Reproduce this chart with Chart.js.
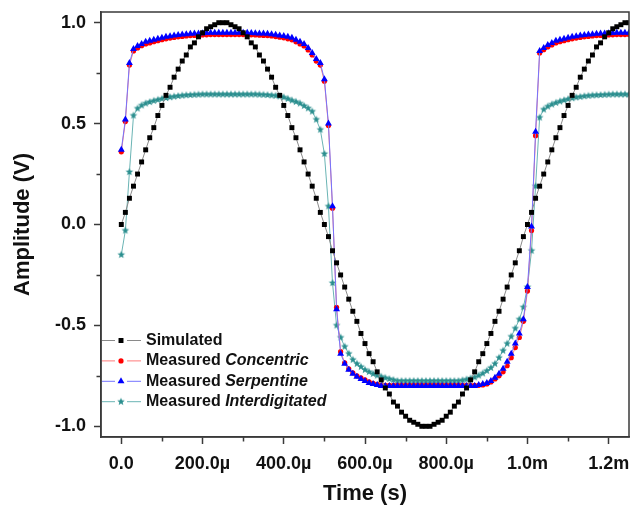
<!DOCTYPE html>
<html><head><meta charset="utf-8">
<script src="https://cdn.jsdelivr.net/npm/chart.js@4"></script>
<style>html,body{margin:0;padding:0;background:#fff;}canvas{display:block;}</style>
</head><body>
<canvas id="c" width="633" height="507"></canvas>
<script>
// time in microseconds
const timeUs = [0,10,20,30,40,50,60,70,80,90,
100,110,120,130,140,150,160,170,180,190,
200,210,220,230,240,250,260,270,280,290,
300,310,320,330,340,350,360,370,380,390,
400,410,420,430,440,450,460,470,480,490,
500,510,520,530,540,550,560,570,580,590,
600,610,620,630,640,650,660,670,680,690,
700,710,720,730,740,750,760,770,780,790,
800,810,820,830,840,850,860,870,880,890,
900,910,920,930,940,950,960,970,980,990,
1000,1010,1020,1030,1040,1050,1060,1070,1080,1090,
1100,1110,1120,1130,1140,1150,1160,1170,1180,1190,
1200,1210,1220,1230,1240,1250];

const simulated = [0.00,0.06,0.13,0.19,0.25,0.31,0.37,0.43,0.48,0.54,
0.59,0.64,0.68,0.73,0.77,0.81,0.84,0.88,0.90,0.93,
0.95,0.97,0.98,0.99,1.00,1.00,1.00,0.99,0.98,0.97,
0.95,0.93,0.90,0.88,0.84,0.81,0.77,0.73,0.68,0.64,
0.59,0.54,0.48,0.43,0.37,0.31,0.25,0.19,0.13,0.06,
0.00,-0.06,-0.13,-0.19,-0.25,-0.31,-0.37,-0.43,-0.48,-0.54,
-0.59,-0.64,-0.68,-0.73,-0.77,-0.81,-0.84,-0.88,-0.90,-0.93,
-0.95,-0.97,-0.98,-0.99,-1.00,-1.00,-1.00,-0.99,-0.98,-0.97,
-0.95,-0.93,-0.90,-0.88,-0.84,-0.81,-0.77,-0.73,-0.68,-0.64,
-0.59,-0.54,-0.48,-0.43,-0.37,-0.31,-0.25,-0.19,-0.13,-0.06,
0.00,0.06,0.13,0.19,0.25,0.31,0.37,0.43,0.48,0.54,
0.59,0.64,0.68,0.73,0.77,0.81,0.84,0.88,0.90,0.93,
0.95,0.97,0.98,0.99,1.00,1.00];

const concentric = [0.36,0.51,0.79,0.86,0.875,0.886,0.895,0.90,0.906,0.911,
0.916,0.92,0.924,0.927,0.93,0.932,0.934,0.936,0.937,0.938,
0.939,0.94,0.941,0.941,0.941,0.941,0.941,0.941,0.941,0.941,
0.941,0.941,0.94,0.939,0.938,0.937,0.936,0.934,0.931,0.928,
0.925,0.92,0.915,0.905,0.895,0.885,0.865,0.84,0.81,0.79,
0.71,0.49,0.08,-0.41,-0.63,-0.685,-0.715,-0.735,-0.75,-0.76,
-0.77,-0.78,-0.787,-0.792,-0.797,-0.797,-0.797,-0.797,-0.797,-0.797,
-0.797,-0.797,-0.797,-0.797,-0.797,-0.797,-0.797,-0.797,-0.797,-0.797,
-0.797,-0.797,-0.797,-0.797,-0.797,-0.797,-0.797,-0.797,-0.797,-0.795,
-0.79,-0.78,-0.765,-0.75,-0.73,-0.70,-0.66,-0.61,-0.56,-0.48,
-0.33,-0.03,0.44,0.85,0.866,0.88,0.89,0.90,0.906,0.911,
0.916,0.92,0.924,0.927,0.93,0.932,0.934,0.936,0.937,0.938,
0.939,0.94,0.941,0.941,0.941,0.941];

const serpentine = [0.37,0.52,0.80,0.87,0.885,0.895,0.905,0.91,0.915,0.92,
0.925,0.93,0.933,0.936,0.939,0.941,0.943,0.945,0.946,0.947,
0.948,0.949,0.95,0.95,0.95,0.95,0.95,0.95,0.95,0.95,
0.95,0.95,0.949,0.948,0.947,0.946,0.945,0.943,0.94,0.937,
0.934,0.93,0.925,0.915,0.905,0.895,0.875,0.85,0.82,0.80,
0.72,0.50,0.09,-0.42,-0.64,-0.69,-0.72,-0.74,-0.755,-0.765,
-0.775,-0.785,-0.79,-0.795,-0.80,-0.80,-0.80,-0.80,-0.80,-0.80,
-0.80,-0.80,-0.80,-0.80,-0.80,-0.80,-0.80,-0.80,-0.80,-0.80,
-0.80,-0.80,-0.80,-0.80,-0.80,-0.80,-0.80,-0.80,-0.795,-0.79,
-0.785,-0.775,-0.76,-0.74,-0.715,-0.68,-0.64,-0.59,-0.54,-0.47,
-0.31,-0.01,0.46,0.86,0.875,0.89,0.90,0.91,0.915,0.92,
0.925,0.93,0.933,0.936,0.939,0.941,0.943,0.945,0.946,0.947,
0.948,0.949,0.95,0.95,0.95,0.95];

const interdigitated = [-0.15,-0.03,0.26,0.54,0.575,0.59,0.60,0.607,0.613,0.618,
0.623,0.627,0.631,0.634,0.637,0.639,0.641,0.642,0.643,0.644,
0.645,0.645,0.645,0.645,0.645,0.645,0.645,0.645,0.645,0.645,
0.645,0.645,0.645,0.645,0.644,0.643,0.642,0.64,0.638,0.635,
0.63,0.623,0.615,0.608,0.60,0.588,0.576,0.56,0.52,0.47,
0.35,0.09,-0.29,-0.50,-0.56,-0.605,-0.64,-0.67,-0.69,-0.705,
-0.72,-0.73,-0.74,-0.748,-0.754,-0.76,-0.765,-0.77,-0.775,-0.775,
-0.775,-0.775,-0.775,-0.775,-0.775,-0.775,-0.775,-0.775,-0.775,-0.775,
-0.775,-0.775,-0.775,-0.775,-0.772,-0.768,-0.763,-0.757,-0.748,-0.738,
-0.725,-0.71,-0.69,-0.66,-0.625,-0.59,-0.555,-0.515,-0.47,-0.41,
-0.31,-0.13,0.19,0.53,0.57,0.585,0.595,0.603,0.61,0.616,
0.621,0.626,0.63,0.633,0.636,0.638,0.64,0.641,0.642,0.643,
0.644,0.645,0.645,0.645,0.645,0.645];

const xTickValues = [0,200,400,600,800,1000,1200];
const xTickLabels = ['0.0','200.0\u00b5','400.0\u00b5','600.0\u00b5','800.0\u00b5','1.0m','1.2m'];
const xMinorTicks = [100,300,500,700,900,1100];
const yTickValues = [-1,-0.5,0,0.5,1];
const yTickLabels = ['-1.0','-0.5','0.0','0.5','1.0'];
const yMinorTicks = [-0.75,-0.25,0.25,0.75];
const legendPlain = ['Simulated','Measured ','Measured ','Measured '];
const legendItalic = ['','Concentric','Serpentine','Interdigitated'];

const FONT = '"Liberation Sans", Arial, Helvetica, sans-serif';
const AXIS = '#3a3a3a';
const TEAL = '#2a8e8e';

function makeStar(color, R, r) {
  const s = Math.ceil(R * 2 + 2);
  const cv = document.createElement('canvas');
  cv.width = s; cv.height = s;
  const g = cv.getContext('2d');
  g.fillStyle = color;
  g.beginPath();
  for (let i = 0; i < 10; i++) {
    const a = -Math.PI / 2 + i * Math.PI / 5;
    const rr = (i % 2) ? r : R;
    g.lineTo(s / 2 + rr * Math.cos(a), s / 2 + rr * Math.sin(a));
  }
  g.closePath();
  g.fill();
  return cv;
}
const starImg = makeStar(TEAL, 4, 1.7);

const toPts = arr => timeUs.map((t, i) => ({x: t, y: arr[i]}));

const styles = [
  {line: '#8a8a8a', fill: '#000000', shape: 'rect', r: 3.5},
  {line: '#ff7a7a', fill: '#ff0000', shape: 'circle', r: 2.6},
  {line: '#7474ff', fill: '#0000ff', shape: 'triangle', r: 4},
  {line: '#6ab4b4', fill: TEAL, shape: starImg, r: 4}
];
const seriesData = [simulated, concentric, serpentine, interdigitated];
const drawOrder = [0, 2, 1, 3];

const datasets = seriesData.map((arr, i) => ({
  label: legendPlain[i] + legendItalic[i],
  data: toPts(arr),
  borderColor: styles[i].line,
  borderWidth: 1,
  pointStyle: styles[i].shape,
  pointRadius: styles[i].r,
  pointBackgroundColor: styles[i].fill,
  pointBorderColor: styles[i].fill,
  pointBorderWidth: 0,
  tension: 0,
  order: drawOrder[i]
}));

function drawMarker(ctx, st, x, y) {
  if (typeof st.shape !== 'string') {
    ctx.drawImage(st.shape, x - st.shape.width / 2, y - st.shape.height / 2);
    return;
  }
  ctx.fillStyle = st.fill;
  ctx.beginPath();
  if (st.shape === 'rect') {
    const s = Math.SQRT1_2 * st.r;
    ctx.rect(x - s, y - s, 2 * s, 2 * s);
  } else if (st.shape === 'circle') {
    ctx.arc(x, y, st.r, 0, Math.PI * 2);
  } else if (st.shape === 'triangle') {
    let a = 0;
    for (let k = 0; k < 3; k++) {
      ctx.lineTo(x + Math.sin(a) * st.r, y - Math.cos(a) * st.r);
      a += 2 * Math.PI / 3;
    }
    ctx.closePath();
  }
  ctx.fill();
}

const decor = {
  id: 'decor',
  afterDraw(chart) {
    const {ctx, chartArea: a, scales: {x, y}} = chart;
    ctx.save();
    ctx.strokeStyle = AXIS;
    ctx.lineWidth = 1.5;
    ctx.strokeRect(a.left, a.top, a.right - a.left, a.bottom - a.top);
    ctx.beginPath();
    xMinorTicks.forEach(v => {
      const px = Math.round(x.getPixelForValue(v)) + 0.5;
      ctx.moveTo(px, a.bottom); ctx.lineTo(px, a.bottom + 4.5);
    });
    yMinorTicks.forEach(v => {
      const py = Math.round(y.getPixelForValue(v)) + 0.5;
      ctx.moveTo(a.left, py); ctx.lineTo(a.left - 4.5, py);
    });
    ctx.stroke();

    // legend
    const x0 = a.left;
    const rowY0 = 340.5;
    const rowStep = 20.4;
    ctx.textBaseline = 'middle';
    for (let i = 0; i < 4; i++) {
      const ry = rowY0 + i * rowStep;
      const st = styles[i];
      ctx.strokeStyle = st.line;
      ctx.lineWidth = 1;
      ctx.beginPath();
      ctx.moveTo(x0 + 1, ry); ctx.lineTo(x0 + 14, ry);
      ctx.moveTo(x0 + 26, ry); ctx.lineTo(x0 + 40, ry);
      ctx.stroke();
      drawMarker(ctx, st, x0 + 20, ry);
      ctx.fillStyle = '#111';
      ctx.font = 'bold 16px ' + FONT;
      const tx = x0 + 45;
      ctx.fillText(legendPlain[i], tx, ry);
      const w = ctx.measureText(legendPlain[i]).width;
      if (legendItalic[i]) {
        ctx.font = 'italic bold 16px ' + FONT;
        ctx.fillText(legendItalic[i], tx + w, ry);
      }
    }
    ctx.restore();
  }
};

const tickFont = {family: FONT, size: 18, weight: 'bold'};
const titleFont = {family: FONT, size: 22, weight: 'bold'};

new Chart(document.getElementById('c'), {
  type: 'line',
  data: {datasets},
  options: {
    responsive: false,
    animation: false,
    devicePixelRatio: 1,
    layout: {padding: {left: 0, right: 3, top: 12, bottom: 0}},
    plugins: {legend: {display: false}, tooltip: {enabled: false}},
    scales: {
      x: {
        type: 'linear', min: -50, max: 1250,
        afterBuildTicks: s => { s.ticks = xTickValues.map(v => ({value: v})); },
        afterFit: s => { s.height = 70; s.paddingLeft = 0; s.paddingRight = 0; s.paddingTop = 0; s.paddingBottom = 0; },
        ticks: {
          callback: (v, i) => xTickLabels[i],
          font: tickFont, color: '#111', padding: 9,
          maxRotation: 0, autoSkip: false
        },
        grid: {display: true, drawOnChartArea: false, drawTicks: true, tickLength: 7, tickWidth: 1.5, tickColor: AXIS},
        border: {display: true, color: AXIS, width: 1.5},
        title: {display: true, text: 'Time (s)', font: titleFont, color: '#111', padding: {top: 0, bottom: 0}}
      },
      y: {
        type: 'linear', min: -1.053, max: 1.053,
        afterBuildTicks: s => { s.ticks = yTickValues.map(v => ({value: v})); },
        afterFit: s => { s.width = 101; s.paddingLeft = 0; s.paddingRight = 0; s.paddingTop = 0; s.paddingBottom = 0; },
        ticks: {
          callback: (v, i) => yTickLabels[i],
          font: tickFont, color: '#111', padding: 8
        },
        grid: {display: true, drawOnChartArea: false, drawTicks: true, tickLength: 7, tickWidth: 1.5, tickColor: AXIS},
        border: {display: true, color: AXIS, width: 1.5},
        title: {display: true, text: 'Amplitude (V)', font: titleFont, color: '#111', padding: {top: 10, bottom: 0}}
      }
    }
  },
  plugins: [decor]
});
</script>
</body></html>
